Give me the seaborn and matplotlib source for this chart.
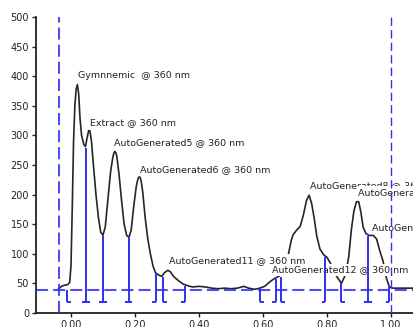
import matplotlib
matplotlib.use("Agg")
import matplotlib.pyplot as plt
import seaborn as sns
import pandas as pd

# chromatogram trace (retention, response)
rt = [-0.040, -0.030, -0.020, -0.010, -0.004, 0.000, 0.004, 0.008, 0.012, 0.016,
      0.020, 0.024, 0.028, 0.033, 0.040, 0.045, 0.050, 0.055, 0.059, 0.064,
      0.070, 0.078, 0.086, 0.093, 0.100, 0.107, 0.115, 0.124, 0.131, 0.134,
      0.137, 0.140, 0.143, 0.150, 0.158, 0.166, 0.174, 0.181, 0.188, 0.196,
      0.204, 0.208, 0.211, 0.214, 0.217, 0.220, 0.224, 0.232, 0.240, 0.248,
      0.256, 0.264, 0.274, 0.284, 0.292, 0.302, 0.310, 0.320, 0.335, 0.350,
      0.365, 0.380, 0.400, 0.420, 0.440, 0.460, 0.480, 0.500, 0.520, 0.540,
      0.555, 0.575, 0.590, 0.605, 0.620, 0.635, 0.650, 0.665, 0.675, 0.682,
      0.688, 0.694, 0.705, 0.716, 0.726, 0.736, 0.744, 0.752, 0.760, 0.768,
      0.778, 0.790, 0.800, 0.815, 0.830, 0.845, 0.858, 0.868, 0.876, 0.884,
      0.892, 0.899, 0.906, 0.913, 0.922, 0.932, 0.945, 0.955, 0.965, 0.975,
      0.985, 0.995, 1.005, 1.072]
resp = [40, 45, 47, 48, 52, 80, 180, 290, 350, 378,
        386, 370, 330, 300, 285, 281, 295, 308, 308, 290,
        250, 200, 160, 136, 132, 145, 190, 240, 264, 270,
        273, 271, 265, 235, 190, 150, 131, 128, 140, 180,
        214, 224, 229, 230, 228, 220, 205, 160, 125, 100,
        80, 68, 64, 62, 68, 72, 70, 62, 55, 49,
        46, 44, 45, 44, 42, 41, 42, 41, 42, 45,
        42, 40, 42, 45, 52, 58, 62, 70, 88, 106,
        122, 132, 140, 146, 165, 190, 199, 185, 160, 130,
        108, 98, 94, 80, 62, 50, 65, 95, 140, 172,
        188, 188, 170, 145, 134, 131, 131, 125, 105, 88,
        60, 44, 42, 42]

# peak labels
peak_names = ["Gymnnemic  @ 360 nm", "Extract @ 360 nm", "AutoGenerated5 @ 360 nm",
              "AutoGenerated6 @ 360 nm", "AutoGenerated11 @ 360 nm",
              "AutoGenerated12 @ 360 nm", "AutoGenerated8 @ 360 nm",
              "AutoGenerated9 @ 360 nm", "AutoGenerated10 @ 360 nm"]
label_x = [0.022, 0.059, 0.134, 0.216, 0.306, 0.628, 0.747, 0.897, 0.940]
label_y = [402, 322, 287, 243, 89, 73, 216, 204, 145]

# integration marks
drop_x = [0.047, 0.101, 0.180, 0.928]
drop_top = [279, 132, 127, 130]
start_x = [-0.012, 0.288, 0.590, 0.656, 0.845]
start_top = [39, 61, 42, 60, 50]
end_x = [0.265, 0.357, 0.640, 0.795, 0.995]
end_top = [68, 45, 58, 95, 44]
mark_bottom = 19
baseline = 39
window = [-0.038, 1.0]

sns.set_style("ticks")
plt.rcParams["font.family"] = ["DejaVu Sans"]

blue = "#3030f0"
fig = plt.figure(figsize=(4.14, 3.27), dpi=100)
ax = fig.add_axes([36 / 414, 14 / 327, 1 - 36 / 414, 296 / 327])

df = pd.DataFrame({"rt": rt, "resp": resp})
sns.lineplot(data=df, x="rt", y="resp", sort=False, estimator=None,
             color="#262626", lw=1.2, ax=ax, zorder=2)

for name, x, y in zip(peak_names, label_x, label_y):
    ax.text(x, y, name, fontsize=6.8, ha="left", va="center", color="#222222",
            bbox=dict(facecolor="white", edgecolor="none", pad=1.0), zorder=3)

cap = 0.012
ax.vlines(drop_x, mark_bottom, drop_top, color=blue, lw=1.4, zorder=4)
ax.hlines([mark_bottom] * len(drop_x), [x - cap for x in drop_x],
          [x + cap for x in drop_x], color=blue, lw=1.4, zorder=4)
ax.vlines(start_x, mark_bottom, start_top, color=blue, lw=1.4, zorder=4)
ax.hlines([mark_bottom] * len(start_x), start_x, [x + cap for x in start_x],
          color=blue, lw=1.4, zorder=4)
ax.vlines(end_x, mark_bottom, end_top, color=blue, lw=1.4, zorder=4)
ax.hlines([mark_bottom] * len(end_x), [x - cap for x in end_x], end_x,
          color=blue, lw=1.4, zorder=4)

ax.axhline(baseline, color=blue, lw=1.5, dashes=(5.8, 2.4), alpha=0.85, zorder=4)
ax.axvline(window[0], color=blue, lw=1.5, dashes=(5.8, 2.4), alpha=0.85, zorder=4)
ax.axvline(window[1], color=blue, lw=1.0, dashes=(6, 3), zorder=4)

ax.set_xlim(-0.1094, 1.0719)
ax.set_ylim(0, 500)
ax.set_xticks([0, 0.2, 0.4, 0.6, 0.8, 1.0])
ax.set_xticklabels(["0.00", "0.20", "0.40", "0.60", "0.80", "1.00"])
ax.set_yticks(range(0, 501, 50))
ax.tick_params(labelsize=7, length=3, width=1, pad=2, colors="#222222")
ax.set_xlabel("")
ax.set_ylabel("")
for s in ["left", "bottom"]:
    ax.spines[s].set_linewidth(1.3)
    ax.spines[s].set_color("#222222")
sns.despine(ax=ax)

fig.savefig("out.png", dpi=100)
